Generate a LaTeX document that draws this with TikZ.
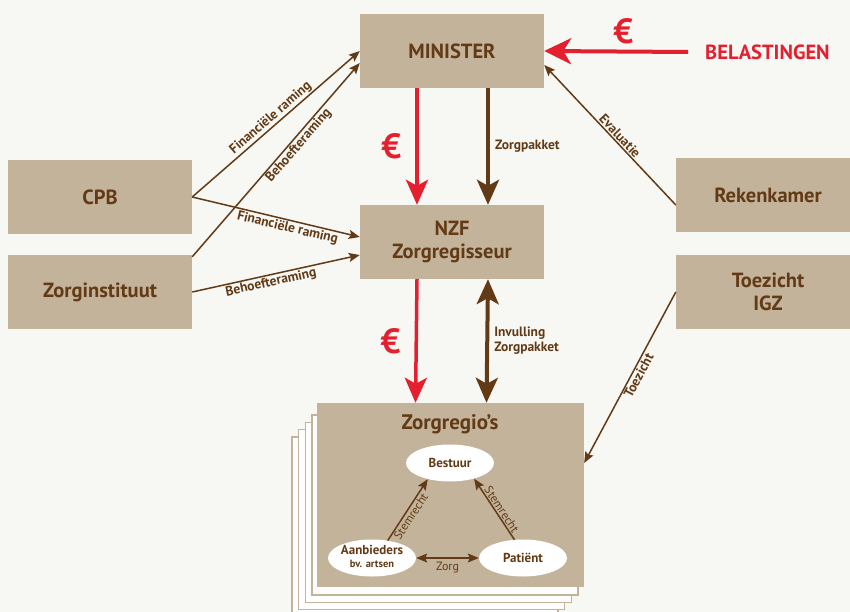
\documentclass[tikz,border=0pt]{standalone}
\usepackage{fontspec}
\setmainfont{PT Sans}
\usetikzlibrary{arrows.meta,shapes.geometric}
\definecolor{bg}{HTML}{F7F7F3}
\definecolor{tan}{HTML}{C4B39B}
\definecolor{brn}{HTML}{623B16}
\definecolor{rd}{HTML}{E4202F}
\begin{document}
\begin{tikzpicture}[x=1pt,y=-1pt,
  box/.style={fill=tan, minimum width=184pt, minimum height=74pt, inner sep=0pt,
    text=brn, font=\fontsize{20.5}{23}\selectfont\bfseries, align=center},
  ell/.style={ellipse, fill=white, minimum width=88pt, minimum height=37pt, inner sep=0pt},
  elltext/.style={text=brn, font=\fontsize{13}{14}\selectfont\bfseries, align=center, inner sep=0pt},
  thin/.style={draw=brn, line width=1.5pt, -{Stealth[length=11pt,width=9pt,inset=2pt]}},
  thinboth/.style={draw=brn, line width=1.5pt, {Stealth[length=11pt,width=9pt,inset=2pt]}-{Stealth[length=11pt,width=9pt,inset=2pt]}},
  thinrev/.style={draw=brn, line width=1.5pt, {Stealth[length=11pt,width=9pt,inset=2pt]}-},
  lbl/.style={text=brn, font=\fontsize{13.5}{15}\selectfont\bfseries, inner sep=1pt},
  lblr/.style={text=brn, font=\fontsize{12}{13}\selectfont, inner sep=1pt},
  redarr/.style={draw=rd, line width=3.5pt, -{Stealth[length=25pt,width=22pt,inset=6pt]}},
  brnarr/.style={draw=brn, line width=4pt, -{Stealth[length=25pt,width=22pt,inset=6pt]}},
  brnboth/.style={draw=brn, line width=4pt, {Stealth[length=25pt,width=22pt,inset=6pt]}-{Stealth[length=25pt,width=22pt,inset=6pt]}},
  euro/.style={text=rd, font=\fontsize{35}{40}\selectfont\bfseries, inner sep=0pt},
  page/.style={fill=white, draw=tan, line width=1.5pt}
]
\fill[bg] (0,0) rectangle (850,612);
\useasboundingbox (0,0) rectangle (850,612);
\clip (0,0) rectangle (850,612);

% stacked pages
\foreach \i in {4,3,2,1}{
  \draw[page] ({318.5-6.6*\i},{407.5+7.4*\i}) rectangle ({584.5-6.6*\i},{587.5+7.4*\i});
}

% boxes
\node[box] (min) at (452,51) {MINISTER};
\node[box] (nzf) at (452,242) {NZF\\Zorgregisseur};
\node[box] (cpb) at (100,197) {CPB};
\node[box] (zi) at (100,292) {Zorginstituut};
\node[box] (rek) at (768,195) {Rekenkamer};
\node[box] (toe) at (768,292) {Toezicht\\IGZ};
\node[fill=tan, minimum width=267pt, minimum height=184pt, inner sep=0pt] (zr) at (450.5,495) {};
\node[text=brn, font=\fontsize{21}{24}\selectfont\bfseries, inner sep=0pt] (zrt) at (450,424) {Zorgregio’s};

% ellipses
\node[ell] (bes) at (450,463) {};
\node[elltext] at (bes) {Bestuur};
\node[ell] (aan) at (372,558) {};
\node[elltext] at ([yshift=2pt]aan.center) {Aanbieders\\[-1pt]{\fontsize{10.5}{11}\selectfont bv. artsen}};
\node[ell] (pat) at (523,558) {};
\node[elltext] at (pat) {Patiënt};

\draw[thin] (aan.48) -- node[lblr, sloped, below, pos=0.45] {Stemrecht} (bes.216);
\draw[thinrev] (bes.327) -- node[lblr, sloped, above, pos=0.56] {Stemrecht} (pat.115);
\draw[thinboth] (aan.east) -- node[lblr, below=2pt] {Zorg} (pat.west);

% BELASTINGEN
\node[text=rd, font=\fontsize{20.5}{23}\selectfont\bfseries, anchor=west, inner sep=0pt] (bel) at (705,52) {BELASTINGEN};
\draw[redarr, line width=4pt, -{Stealth[length=27pt,width=26pt,inset=8pt]}] ([xshift=-17pt]bel.west) -- node[euro, above=6pt, pos=0.45] {€} (min.east);

% vertical arrows
\draw[redarr] ([xshift=-35pt]min.south) -- node[euro, left=14pt] {€} ([xshift=-35pt]nzf.north);
\draw[brnarr] ([xshift=36pt]min.south) -- node[lbl, right=4pt] {Zorgpakket} ([xshift=36pt]nzf.north);
\draw[redarr] ([xshift=-35pt]nzf.south) -- node[euro, left=14pt] {€} ([xshift=-35pt]zr.north);
\draw[brnboth] ([xshift=36pt]nzf.south) -- node[lbl, right=4pt, align=left] {Invulling\\Zorgpakket} ([xshift=36pt]zr.north);

% CPB / Zorginstituut
\draw[thin] (cpb.east) -- node[lbl, sloped, above, pos=0.5] {Financiële raming} (min.west);
\draw[thin] ([yshift=-2pt]zi.north east) -- node[lbl, sloped, below, pos=0.6] {Behoefteraming} ([yshift=-12pt]min.west);
\draw[thin] (cpb.east) -- node[lbl, sloped, below, pos=0.58] {Financiële raming} ([yshift=5pt]nzf.west);
\draw[thin] (zi.east) -- node[lbl, sloped, below, pos=0.46] {Behoefteraming} ([yshift=-13pt]nzf.west);

% Rekenkamer / Toezicht
\draw[thinrev] ([yshift=-14pt]min.east) -- node[lbl, sloped, above, pos=0.54] {Evaluatie} ([yshift=-10pt]rek.west);
\draw[thinrev] ([yshift=32pt]zr.east) -- node[lbl, sloped, below, pos=0.53] {Toezicht} (toe.west);
\end{tikzpicture}
\end{document}
